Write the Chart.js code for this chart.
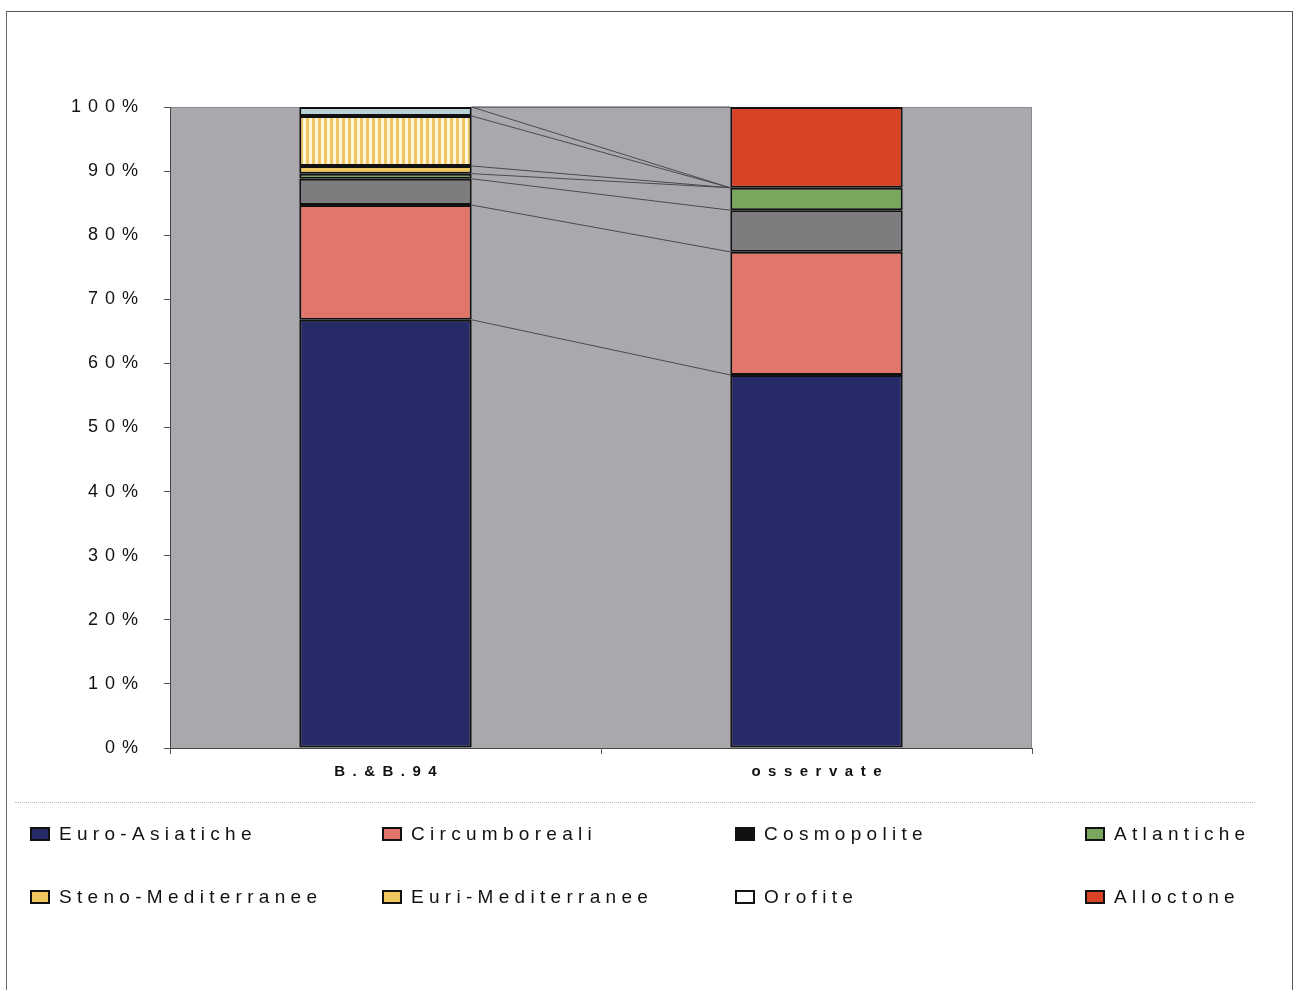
<!DOCTYPE html>
<html>
<head>
<meta charset="utf-8">
<script src="https://cdn.jsdelivr.net/npm/chart.js@4.4.1/dist/chart.umd.min.js"></script>
<style>
  body { margin: 0; background: #fff; width: 1297px; height: 990px; overflow: hidden; position: relative;
         font-family: "Liberation Sans", Arial, sans-serif; }
  #frame { position: absolute; left: 6px; top: 11px; width: 1285px; height: 990px;
           border-left: 1.5px solid #666; border-top: 1.5px solid #555; border-right: 1.5px solid #555; }
  #chart { position: absolute; left: 0; top: 0; }
  #sep { position: absolute; left: 15px; top: 802px; width: 1240px; border-top: 1px dotted #bbb; }
  .item { position: absolute; font-size: 19px; letter-spacing: 5.3px; color: #111; display: flex; align-items: center; white-space: nowrap; }
  .box { width: 16px; height: 10px; border: 2px solid #111; margin-right: 9px; }
</style>
</head>
<body>
<div id="frame"></div>
<canvas id="chart" width="1297" height="990"></canvas>
<div id="sep"></div>
<div id="legend"></div>
<script>
// Categorie e valori (%)
const categories = ["B.&B.94", "osservate"];
const seriesNames = ["Euro-Asiatiche", "Circumboreali", "Cosmopolite", "Atlantiche",
                     "Steno-Mediterranee", "Euri-Mediterranee", "Orofite", "Alloctone"];
const euroAsiatiche = [66.8, 58.2];
const circumboreali = [17.9, 19.2];
const cosmopolite = [4.1, 6.5];
const atlantiche = [0.8, 3.5];
const stenoMediterranee = [1.2, 0];
const euriMediterranee = [7.8, 0];
const orofite = [1.4, 0];
const alloctone = [0, 12.6];
const yTicks = [0, 10, 20, 30, 40, 50, 60, 70, 80, 90, 100];

// Colori
const barColors = ["#262a66", "#e2766a", "#7f7c80", "#78a75d", "#f0c75e", null, "#b9d2da", "#d84325"];
const legendColors = ["#262a66", "#e2766a", "#111111", "#78a75d", "#f0c75e", "#f0c75e", "#ffffff", "#d84325"];

// Motivo a righe per Euri-Mediterranee
function stripePattern() {
    const c = document.createElement("canvas");
    c.width = 6; c.height = 4;
    const g = c.getContext("2d");
    g.fillStyle = "#fff6d8"; g.fillRect(0, 0, 6, 4);
    g.fillStyle = "#efc462"; g.fillRect(0, 0, 3, 4);
    return g.createPattern(c, "repeat");
}
barColors[5] = stripePattern();

const values = [euroAsiatiche, circumboreali, cosmopolite, atlantiche,
                stenoMediterranee, euriMediterranee, orofite, alloctone];

// Sfondo grigio dell'area del grafico
const plotBackground = {
    id: "plotBackground",
    beforeDraw(chart) {
        const { ctx, chartArea: a } = chart;
        ctx.save();
        ctx.fillStyle = "#aaa8ac";
        ctx.fillRect(a.left, a.top, a.right - a.left, a.bottom - a.top);
        ctx.strokeStyle = "#8c8a8e";
        ctx.lineWidth = 1;
        ctx.beginPath();
        ctx.moveTo(a.left, a.top + 0.5);
        ctx.lineTo(a.right - 0.5, a.top + 0.5);
        ctx.lineTo(a.right - 0.5, a.bottom);
        ctx.stroke();
        ctx.restore();
        ctx.letterSpacing = "7px";
    }
};

// Linee di collegamento tra le due colonne
const seriesLines = {
    id: "seriesLines",
    afterDatasetsDraw(chart) {
        const ctx = chart.ctx;
        ctx.save();
        ctx.strokeStyle = "#4a4a4e";
        ctx.lineWidth = 1;
        chart.data.datasets.forEach((ds, i) => {
            const bars = chart.getDatasetMeta(i).data;
            const a = bars[0], b = bars[1];
            ctx.beginPath();
            ctx.moveTo(a.x + a.width / 2, a.y);
            ctx.lineTo(b.x - b.width / 2, b.y);
            ctx.stroke();
        });
        ctx.restore();
    }
};

// Etichette delle categorie (spaziatura larga)
const categoryLabels = {
    id: "categoryLabels",
    afterDraw(chart) {
        const ctx = chart.ctx;
        const x = chart.scales.x;
        ctx.save();
        ctx.font = "bold 15px 'Liberation Sans', Arial, sans-serif";
        ctx.letterSpacing = "7.5px";
        ctx.fillStyle = "#111";
        ctx.textAlign = "center";
        ctx.textBaseline = "middle";
        categories.forEach((c, i) => ctx.fillText(c, x.getPixelForValue(i) + 3.7, 772));
        ctx.restore();
    }
};

const ctx = document.getElementById("chart").getContext("2d");
new Chart(ctx, {
    type: "bar",
    data: {
        labels: categories,
        datasets: seriesNames.map((name, i) => ({
            label: name,
            data: values[i],
            backgroundColor: barColors[i],
            borderColor: "#111",
            borderWidth: 2,
            borderSkipped: false,
            barPercentage: 0.4,
            categoryPercentage: 1
        }))
    },
    options: {
        responsive: false,
        animation: false,
        layout: { padding: { left: 0, top: 107, right: 265, bottom: 202 } },
        plugins: { legend: { display: false }, tooltip: { enabled: false } },
        scales: {
            x: {
                stacked: true,
                offset: true,
                ticks: { display: false },
                grid: { drawOnChartArea: false, drawTicks: true, tickLength: 6, color: "#555", offset: true },
                border: { color: "#444", width: 1 },
                afterFit: s => { s.height = 40; }
            },
            y: {
                stacked: true,
                min: 0,
                max: 100,
                afterBuildTicks: s => { s.ticks = yTicks.map(v => ({ value: v })); },
                ticks: {
                    callback: v => v + "%",
                    color: "#111",
                    padding: 19,
                    font: { family: "'Liberation Sans', Arial, sans-serif", size: 18 }
                },
                grid: { drawOnChartArea: false, drawTicks: true, tickLength: 6, color: "#555" },
                border: { color: "#444", width: 1 },
                afterFit: s => { s.width = 170; }
            }
        }
    },
    plugins: [plotBackground, seriesLines, categoryLabels]
});

// Legenda HTML, 4 colonne x 2 righe
const legendX = [30, 382, 735, 1085];
const legendY = [823, 886];
const legend = document.getElementById("legend");
seriesNames.forEach((name, i) => {
    const item = document.createElement("div");
    item.className = "item";
    item.style.left = legendX[i % 4] + "px";
    item.style.top = legendY[Math.floor(i / 4)] + "px";
    item.innerHTML = '<span class="box" style="background:' + legendColors[i] + '"></span>' + name;
    legend.appendChild(item);
});
</script>
</body>
</html>
